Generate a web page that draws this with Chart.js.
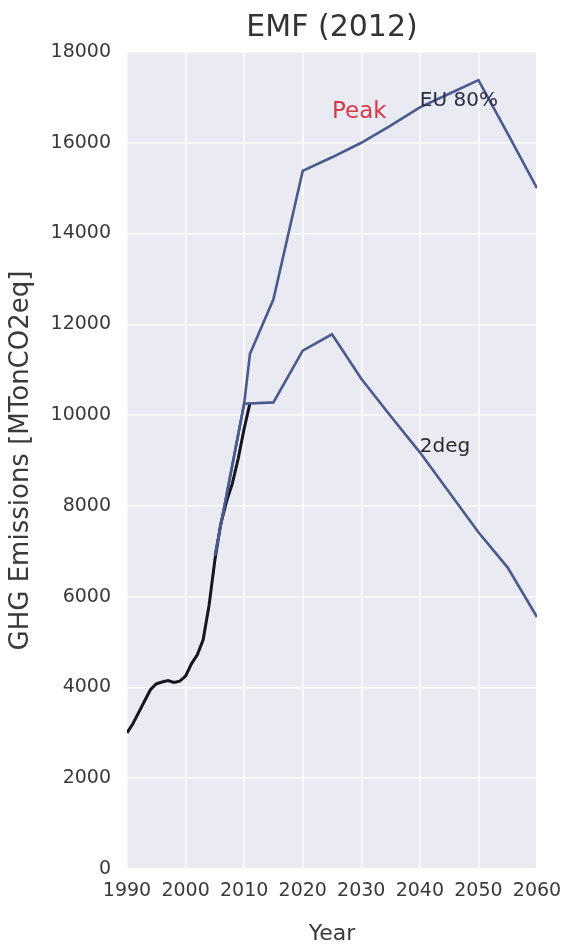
<!DOCTYPE html>
<html>
<head>
<meta charset="utf-8">
<script src="https://cdn.jsdelivr.net/npm/chart.js@4/dist/chart.umd.min.js"></script>
<style>
  html, body { margin: 0; padding: 0; background: #ffffff; }
  #wrap { width: 565px; height: 948px; position: relative; }
</style>
</head>
<body>
<div id="wrap"><canvas id="c" width="565" height="948"></canvas></div>
<script>
// Historical emissions (annual)
const histYears = [1990,1991,1992,1993,1994,1995,1996,1997,1998,1999,2000,2001,2002,2003,2004,2005,2006,2007,2008,2009,2010,2011];
const histValues = [3000,3200,3450,3700,3950,4080,4120,4150,4110,4140,4250,4520,4720,5050,5800,6800,7600,8100,8500,9050,9700,10270];

// EU 80% scenario
const eu80Years = [2005,2010,2011,2015,2020,2025,2030,2035,2040,2045,2050,2055,2060];
const eu80Values = [6900,10250,11350,12550,15380,15680,16000,16380,16780,17080,17380,16200,15000];

// 2deg scenario
const deg2Years = [2005,2010,2015,2020,2025,2030,2035,2040,2045,2050,2055,2060];
const deg2Values = [6900,10250,10280,11420,11780,10800,9980,9180,8300,7420,6640,5550];

// Axis ticks
const xTicks = [1990,2000,2010,2020,2030,2040,2050,2060];
const yTicks = [0,2000,4000,6000,8000,10000,12000,14000,16000,18000];

// Text labels placed at data coordinates
const labels = [
  { text: 'Peak',   x: 2025, y: 16550, color: '#d63a4a', size: 23 },
  { text: 'EU 80%', x: 2040, y: 16800, color: '#2a2f45', size: 20 },
  { text: '2deg',   x: 2040, y: 9180,  color: '#2a2a2a', size: 20 }
];

const pts = (xs, ys) => xs.map((x, i) => ({ x: x, y: ys[i] }));

const FONT = "'DejaVu Sans', sans-serif";

const plotBackground = {
  id: 'plotBackground',
  beforeDraw(chart) {
    const { ctx, chartArea: a } = chart;
    ctx.save();
    ctx.fillStyle = '#eaeaf2';
    ctx.fillRect(a.left, a.top, a.right - a.left, a.bottom - a.top);
    ctx.restore();
  }
};

const textLabels = {
  id: 'textLabels',
  afterDatasetsDraw(chart) {
    const { ctx } = chart;
    const xs = chart.scales.x, ys = chart.scales.y;
    ctx.save();
    ctx.textAlign = 'left';
    ctx.textBaseline = 'alphabetic';
    labels.forEach(l => {
      ctx.font = l.size + 'px ' + FONT;
      ctx.fillStyle = l.color;
      ctx.fillText(l.text, xs.getPixelForValue(l.x), ys.getPixelForValue(l.y));
    });
    // chart title
    const a = chart.chartArea;
    ctx.font = '30px ' + FONT;
    ctx.fillStyle = '#333333';
    ctx.textAlign = 'center';
    ctx.textBaseline = 'middle';
    ctx.fillText('EMF (2012)', (a.left + a.right) / 2, 28);
    ctx.restore();
  }
};

const plain = v => String(v);

new Chart(document.getElementById('c'), {
  type: 'line',
  data: {
    datasets: [
      { label: 'EU 80%', data: pts(eu80Years, eu80Values), borderColor: '#4a5a8c', borderWidth: 2.6, pointRadius: 0, tension: 0, fill: false },
      { label: '2deg', data: pts(deg2Years, deg2Values), borderColor: '#4a5a8c', borderWidth: 2.6, pointRadius: 0, tension: 0, fill: false },
      { label: 'History', data: pts(histYears, histValues), borderColor: '#15151f', borderWidth: 3, pointRadius: 0, tension: 0, fill: false }
    ]
  },
  options: {
    responsive: false,
    animation: false,
    layout: { padding: { top: 52, right: 28, bottom: 0, left: 0 } },
    plugins: { legend: { display: false }, title: { display: false }, tooltip: { enabled: false } },
    scales: {
      x: {
        type: 'linear',
        min: 1990, max: 2060,
        afterBuildTicks(scale) { scale.ticks = xTicks.map(v => ({ value: v })); },
        afterFit(scale) { scale.height = 79; scale.paddingRight = 0; scale.paddingLeft = 0; },
        ticks: { autoSkip: false, maxRotation: 0, minRotation: 0, padding: 11, color: '#3a3a3a', font: { family: FONT, size: 19 }, callback: plain },
        grid: { color: '#ffffff', lineWidth: 1.5, drawTicks: false },
        border: { display: false },
        title: { display: true, text: 'Year', color: '#3a3a3a', font: { family: FONT, size: 22 }, padding: { top: 0, bottom: 1 } }
      },
      y: {
        min: 0, max: 18000,
        afterBuildTicks(scale) { scale.ticks = yTicks.map(v => ({ value: v })); },
        afterFit(scale) { scale.width = 127; },
        ticks: { padding: 16, color: '#3a3a3a', font: { family: FONT, size: 19 }, callback: plain },
        grid: { color: '#ffffff', lineWidth: 1.5, drawTicks: false },
        border: { display: false },
        title: { display: true, text: 'GHG Emissions [MTonCO2eq]', color: '#3a3a3a', font: { family: FONT, size: 26 }, padding: { top: 6, bottom: 0 } }
      }
    }
  },
  plugins: [plotBackground, textLabels]
});
</script>
</body>
</html>
